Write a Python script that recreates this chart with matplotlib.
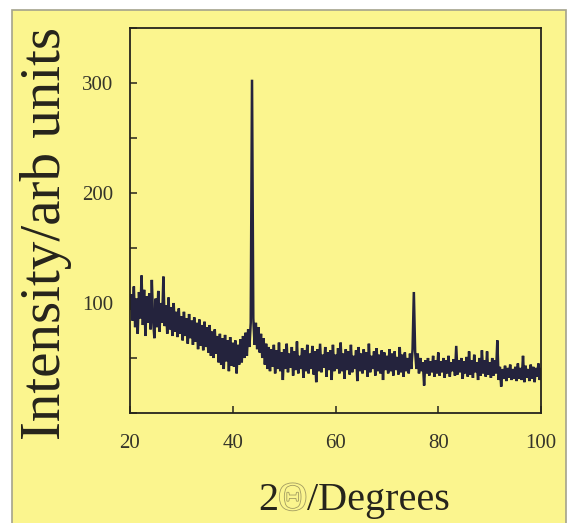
import numpy as np
import matplotlib
matplotlib.use("Agg")
import matplotlib.pyplot as plt
from matplotlib.patches import Rectangle
import matplotlib.patheffects as pe
from matplotlib.ticker import MultipleLocator

# ---- data (2-theta step 0.25 deg) ----
two_theta_start = 20.0
two_theta_step = 0.25
intensity = [
    # 20.00 - 24.75
    95, 108, 84, 115, 78, 104, 72, 110, 86, 125, 80, 112, 70, 106, 82, 109, 76, 121, 84, 68,
    # 25.00 - 29.75
    104, 78, 111, 74, 100, 82, 124, 79, 98, 72, 105, 76, 96, 70, 100, 74, 92, 69, 95, 72,
    # 30.00 - 34.75
    88, 66, 92, 70, 86, 63, 90, 68, 84, 62, 87, 65, 82, 58, 85, 61, 80, 57, 83, 60,
    # 35.00 - 39.75
    78, 55, 80, 52, 74, 50, 76, 54, 70, 46, 72, 44, 68, 40, 71, 47, 66, 38, 69, 43,
    # 40.00 - 44.75
    64, 42, 66, 36, 62, 44, 67, 46, 70, 50, 73, 52, 76, 60, 82, 303, 86, 62, 82, 58,
    # 45.00 - 49.75
    78, 55, 72, 50, 68, 44, 63, 40, 60, 38, 58, 42, 62, 36, 57, 40, 64, 38, 55, 30,
    # 50.00 - 54.75
    58, 40, 63, 37, 54, 41, 60, 34, 56, 39, 65, 36, 52, 40, 59, 32, 57, 38, 62, 36,
    # 55.00 - 59.75
    54, 40, 61, 35, 56, 28, 58, 38, 63, 37, 53, 41, 60, 33, 55, 39, 57, 30, 62, 38,
    # 60.00 - 64.75
    53, 40, 59, 36, 64, 38, 54, 31, 58, 39, 56, 35, 62, 37, 52, 40, 57, 29, 60, 38,
    # 65.00 - 69.75
    54, 36, 58, 39, 55, 33, 63, 37, 52, 40, 56, 34, 59, 38, 53, 36, 57, 30, 55, 39,
    # 70.00 - 74.75
    52, 36, 58, 38, 54, 34, 56, 39, 51, 35, 60, 37, 53, 33, 55, 38, 50, 36, 54, 40,
    # 75.00 - 79.75
    58, 110, 56, 40, 54, 36, 50, 38, 46, 25, 48, 36, 50, 34, 47, 37, 52, 33, 48, 36,
    # 80.00 - 84.75
    55, 34, 47, 37, 50, 32, 48, 36, 52, 33, 46, 38, 49, 34, 61, 35, 48, 37, 50, 31,
    # 85.00 - 89.75
    47, 36, 51, 33, 56, 35, 48, 32, 53, 37, 46, 30, 50, 34, 57, 36, 48, 33, 56, 35,
    # 90.00 - 94.75
    46, 32, 50, 34, 48, 36, 66, 30, 42, 24, 40, 31, 43, 29, 41, 32, 44, 30, 40, 31,
    # 95.00 - 99.75
    42, 29, 45, 31, 41, 30, 52, 28, 43, 32, 40, 29, 44, 31, 42, 28, 41, 33, 45, 30,
    # 100.00
    40,
]
two_theta = two_theta_start + two_theta_step * np.arange(len(intensity))

x_ticks = [20, 40, 60, 80, 100]
y_major = [100, 200, 300]
x_label_parts = ["2", "\u0398", "/Degrees"]
y_label = "Intensity/arb units"

YELLOW = "#fbf58e"
INK = "#26241c"
TRACE = "#24233d"

plt.rcParams["font.family"] = ["Liberation Serif", "DejaVu Serif"]

fig = plt.figure(figsize=(5.75, 5.23), dpi=100, facecolor="white")

# yellow panel with grey frame
fig.patches.append(Rectangle((12 / 575, -0.01), (566 - 12) / 575, 1 - 10 / 523 + 0.01,
                             transform=fig.transFigure, facecolor=YELLOW,
                             edgecolor="#a4a38c", linewidth=1.2, zorder=-5))

ax = fig.add_axes([130 / 575, 1 - 413 / 523, (541 - 130) / 575, (413 - 28) / 523])
ax.set_zorder(2)
ax.set_facecolor("none")
ax.plot(two_theta, intensity, color=TRACE, linewidth=1.8, solid_joinstyle="miter")

ax.set_xlim(20, 100)
ax.set_ylim(0, 350)
ax.set_xticks(x_ticks)
ax.set_xticklabels([str(t) for t in x_ticks])
ax.set_yticks(y_major)
ax.set_yticklabels([str(t) for t in y_major])
ax.yaxis.set_minor_locator(MultipleLocator(50))

for s in ax.spines.values():
    s.set_color(INK)
    s.set_linewidth(1.3)

ax.tick_params(axis="both", which="both", direction="in", color=INK, width=1.1,
               length=5, labelcolor="#35342a", labelsize=15)
ax.tick_params(axis="x", pad=15)
ax.tick_params(axis="y", pad=12)
ax.tick_params(axis="y", which="minor", length=5)

# y label
fig.text(46 / 575, 1 - 234 / 523, y_label, rotation=90, ha="center", va="center",
         fontsize=41, color=INK, zorder=3)

# x label built from parts (outlined theta)
base_y = 1 - 510 / 523
x0 = 258 / 575
fig.canvas.draw()
renderer = fig.canvas.get_renderer()
cur = x0
styles = [
    dict(color=INK),
    dict(color=YELLOW, path_effects=[pe.Stroke(linewidth=1.2, foreground="#a29c62"), pe.Normal()]),
    dict(color=INK),
]
for part, st in zip(x_label_parts, styles):
    t = fig.text(cur, base_y, part, ha="left", va="baseline", fontsize=29, zorder=3, **st)
    w = t.get_window_extent(renderer).width
    cur += w / (575)

fig.savefig("out.png", dpi=100, facecolor="white")
